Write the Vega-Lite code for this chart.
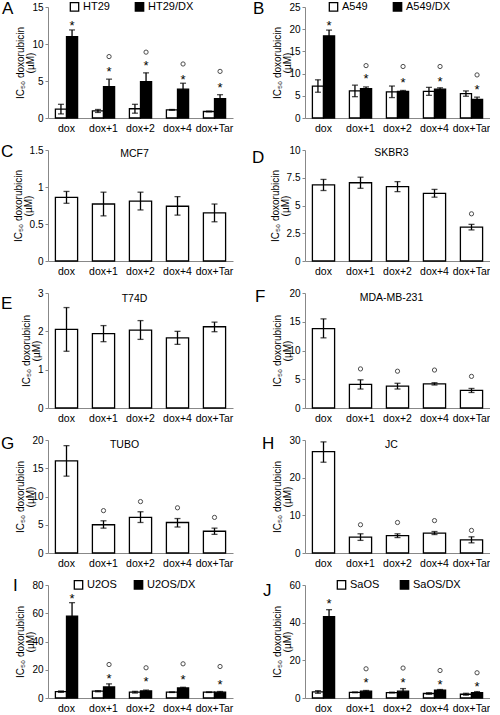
{
"$schema":"https://vega.github.io/schema/vega-lite/v6.json",
"padding":{"left":1,"top":0,"right":0,"bottom":0},
"background":"white",
"bounds":"flush",
"columns":2,
"spacing":{"row":32,"column":72},
"resolve":{"scale":{"fill":"independent","xOffset":"independent"},"legend":{"fill":"independent"}},
"config":{
 "font":"Liberation Sans",
 "view":{"stroke":null},
 "axis":{"grid":false,"domainColor":"#888","tickColor":"#888","labelColor":"#000","labelFontSize":10,"titleFontSize":10,"titleFontWeight":"normal","titleColor":"#000","labelOverlap":false},
 "axisX":{"ticks":false,"labelPadding":5,"labelAngle":0,"labelFontSize":10.5,"title":null},
 "axisY":{"tickSize":3,"labelPadding":2,"titlePadding":-4,"titleLineHeight":10,"labelExpr":"''+datum.value","labelOverlap":false},
 "bar":{"stroke":"#000","strokeWidth":1.3,"fill":"#fff"},
 "rule":{"strokeWidth":1.3,"color":"#000"},
 "tick":{"thickness":1.3,"size":6,"color":"#000"},
 "point":{"shape":"circle","size":18,"filled":false,"stroke":"#000","strokeWidth":1},
 "legend":{"orient":"none","direction":"horizontal","columns":2,"columnPadding":22,"symbolType":"square","symbolSize":70,"symbolStrokeColor":"#000","symbolStrokeWidth":1.2,"labelFontSize":11,"labelColor":"#000","title":null,"labelOffset":3}
},
"datasets":{
 "bars":[
  {"p":"A","x":"dox","g":"HT29","v":1.2,"lo":0.55,"hi":1.85},
  {"p":"A","x":"dox","g":"HT29/DX","v":11.0,"lo":10.1,"hi":11.9},
  {"p":"A","x":"dox+1","g":"HT29","v":0.95,"lo":0.75,"hi":1.15},
  {"p":"A","x":"dox+1","g":"HT29/DX","v":4.25,"lo":3.25,"hi":5.25},
  {"p":"A","x":"dox+2","g":"HT29","v":1.25,"lo":0.65,"hi":1.85},
  {"p":"A","x":"dox+2","g":"HT29/DX","v":4.9,"lo":3.7,"hi":6.1},
  {"p":"A","x":"dox+4","g":"HT29","v":1.1,"lo":1.05,"hi":1.15},
  {"p":"A","x":"dox+4","g":"HT29/DX","v":3.9,"lo":3.1,"hi":4.7},
  {"p":"A","x":"dox+Tar","g":"HT29","v":0.88,"lo":0.83,"hi":0.93},
  {"p":"A","x":"dox+Tar","g":"HT29/DX","v":2.6,"lo":2.05,"hi":3.15},
  {"p":"B","x":"dox","g":"A549","v":7.2,"lo":5.8,"hi":8.6},
  {"p":"B","x":"dox","g":"A549/DX","v":18.5,"lo":17.2,"hi":19.8},
  {"p":"B","x":"dox+1","g":"A549","v":6.1,"lo":4.8,"hi":7.4},
  {"p":"B","x":"dox+1","g":"A549/DX","v":6.6,"lo":6.2,"hi":7.0},
  {"p":"B","x":"dox+2","g":"A549","v":5.9,"lo":4.6,"hi":7.2},
  {"p":"B","x":"dox+2","g":"A549/DX","v":6.0,"lo":5.8,"hi":6.2},
  {"p":"B","x":"dox+4","g":"A549","v":6.0,"lo":5.1,"hi":6.9},
  {"p":"B","x":"dox+4","g":"A549/DX","v":6.5,"lo":6.2,"hi":6.8},
  {"p":"B","x":"dox+Tar","g":"A549","v":5.5,"lo":4.9,"hi":6.1},
  {"p":"B","x":"dox+Tar","g":"A549/DX","v":4.2,"lo":3.7,"hi":4.7},
  {"p":"C","x":"dox","v":0.86,"lo":0.78,"hi":0.94},
  {"p":"C","x":"dox+1","v":0.77,"lo":0.61,"hi":0.93},
  {"p":"C","x":"dox+2","v":0.81,"lo":0.69,"hi":0.93},
  {"p":"C","x":"dox+4","v":0.74,"lo":0.62,"hi":0.87},
  {"p":"C","x":"dox+Tar","v":0.65,"lo":0.53,"hi":0.77},
  {"p":"D","x":"dox","v":6.85,"lo":6.35,"hi":7.35},
  {"p":"D","x":"dox+1","v":7.05,"lo":6.55,"hi":7.55},
  {"p":"D","x":"dox+2","v":6.7,"lo":6.25,"hi":7.15},
  {"p":"D","x":"dox+4","v":6.1,"lo":5.75,"hi":6.45},
  {"p":"D","x":"dox+Tar","v":3.05,"lo":2.8,"hi":3.3},
  {"p":"E","x":"dox","v":2.05,"lo":1.48,"hi":2.62},
  {"p":"E","x":"dox+1","v":1.94,"lo":1.73,"hi":2.15},
  {"p":"E","x":"dox+2","v":2.03,"lo":1.79,"hi":2.28},
  {"p":"E","x":"dox+4","v":1.83,"lo":1.66,"hi":2.0},
  {"p":"E","x":"dox+Tar","v":2.12,"lo":1.99,"hi":2.24},
  {"p":"F","x":"dox","v":13.8,"lo":12.2,"hi":15.5},
  {"p":"F","x":"dox+1","v":4.1,"lo":3.3,"hi":4.9},
  {"p":"F","x":"dox+2","v":3.8,"lo":3.3,"hi":4.3},
  {"p":"F","x":"dox+4","v":4.2,"lo":4.0,"hi":4.4},
  {"p":"F","x":"dox+Tar","v":3.05,"lo":2.7,"hi":3.4},
  {"p":"G","x":"dox","v":16.3,"lo":13.6,"hi":19.0},
  {"p":"G","x":"dox+1","v":5.0,"lo":4.4,"hi":5.7},
  {"p":"G","x":"dox+2","v":6.3,"lo":5.4,"hi":7.3},
  {"p":"G","x":"dox+4","v":5.4,"lo":4.6,"hi":6.1},
  {"p":"G","x":"dox+Tar","v":3.85,"lo":3.3,"hi":4.4},
  {"p":"H","x":"dox","v":26.9,"lo":24.1,"hi":29.5},
  {"p":"H","x":"dox+1","v":4.2,"lo":3.35,"hi":5.1},
  {"p":"H","x":"dox+2","v":4.6,"lo":4.1,"hi":5.1},
  {"p":"H","x":"dox+4","v":5.3,"lo":4.9,"hi":5.7},
  {"p":"H","x":"dox+Tar","v":3.5,"lo":2.7,"hi":4.3},
  {"p":"I","x":"dox","g":"U2OS","v":4.5,"lo":4.0,"hi":5.0},
  {"p":"I","x":"dox","g":"U2OS/DX","v":58,"lo":48.5,"hi":67.5},
  {"p":"I","x":"dox+1","g":"U2OS","v":4.8,"lo":4.4,"hi":5.2},
  {"p":"I","x":"dox+1","g":"U2OS/DX","v":7.8,"lo":5.6,"hi":10.0},
  {"p":"I","x":"dox+2","g":"U2OS","v":4.1,"lo":3.5,"hi":4.7},
  {"p":"I","x":"dox+2","g":"U2OS/DX","v":5.0,"lo":4.4,"hi":5.6},
  {"p":"I","x":"dox+4","g":"U2OS","v":4.1,"lo":3.9,"hi":4.3},
  {"p":"I","x":"dox+4","g":"U2OS/DX","v":7.1,"lo":6.6,"hi":7.6},
  {"p":"I","x":"dox+Tar","g":"U2OS","v":4.1,"lo":3.9,"hi":4.3},
  {"p":"I","x":"dox+Tar","g":"U2OS/DX","v":4.1,"lo":3.6,"hi":4.6},
  {"p":"J","x":"dox","g":"SaOS","v":3.2,"lo":2.5,"hi":3.9},
  {"p":"J","x":"dox","g":"SaOS/DX","v":43.2,"lo":39.5,"hi":46.9},
  {"p":"J","x":"dox+1","g":"SaOS","v":3.0,"lo":2.8,"hi":3.2},
  {"p":"J","x":"dox+1","g":"SaOS/DX","v":3.6,"lo":3.2,"hi":4.0},
  {"p":"J","x":"dox+2","g":"SaOS","v":2.9,"lo":2.7,"hi":3.1},
  {"p":"J","x":"dox+2","g":"SaOS/DX","v":3.6,"lo":2.2,"hi":5.0},
  {"p":"J","x":"dox+4","g":"SaOS","v":2.4,"lo":2.0,"hi":2.8},
  {"p":"J","x":"dox+4","g":"SaOS/DX","v":4.2,"lo":3.9,"hi":4.5},
  {"p":"J","x":"dox+Tar","g":"SaOS","v":2.0,"lo":1.5,"hi":2.5},
  {"p":"J","x":"dox+Tar","g":"SaOS/DX","v":2.9,"lo":2.4,"hi":3.4}
 ],
 "ann":[
  {"p":"A","x":"dox","g":"HT29/DX","s":"*","y":12.85},
  {"p":"A","x":"dox+1","g":"HT29/DX","s":"*","y":6.6},
  {"p":"A","x":"dox+1","g":"HT29/DX","s":"o","y":8.3},
  {"p":"A","x":"dox+2","g":"HT29/DX","s":"*","y":7.5},
  {"p":"A","x":"dox+2","g":"HT29/DX","s":"o","y":8.9},
  {"p":"A","x":"dox+4","g":"HT29/DX","s":"*","y":5.6},
  {"p":"A","x":"dox+4","g":"HT29/DX","s":"o","y":7.3},
  {"p":"A","x":"dox+Tar","g":"HT29/DX","s":"*","y":4.4},
  {"p":"A","x":"dox+Tar","g":"HT29/DX","s":"o","y":6.3},
  {"p":"B","x":"dox","g":"A549/DX","s":"*","y":21.5},
  {"p":"B","x":"dox+1","g":"A549/DX","s":"*","y":9.4},
  {"p":"B","x":"dox+1","g":"A549/DX","s":"o","y":11.8},
  {"p":"B","x":"dox+2","g":"A549/DX","s":"*","y":8.5},
  {"p":"B","x":"dox+2","g":"A549/DX","s":"o","y":11.6},
  {"p":"B","x":"dox+4","g":"A549/DX","s":"*","y":8.7},
  {"p":"B","x":"dox+4","g":"A549/DX","s":"o","y":11.6},
  {"p":"B","x":"dox+Tar","g":"A549/DX","s":"*","y":7.0},
  {"p":"B","x":"dox+Tar","g":"A549/DX","s":"o","y":9.7},
  {"p":"D","x":"dox+Tar","s":"o","y":4.25},
  {"p":"F","x":"dox+1","s":"o","y":6.8},
  {"p":"F","x":"dox+2","s":"o","y":6.4},
  {"p":"F","x":"dox+4","s":"o","y":6.6},
  {"p":"F","x":"dox+Tar","s":"o","y":5.5},
  {"p":"G","x":"dox+1","s":"o","y":7.5},
  {"p":"G","x":"dox+2","s":"o","y":9.1},
  {"p":"G","x":"dox+4","s":"o","y":8.0},
  {"p":"G","x":"dox+Tar","s":"o","y":6.3},
  {"p":"H","x":"dox+1","s":"o","y":7.5},
  {"p":"H","x":"dox+2","s":"o","y":8.1},
  {"p":"H","x":"dox+4","s":"o","y":8.6},
  {"p":"H","x":"dox+Tar","s":"o","y":6.0},
  {"p":"I","x":"dox","g":"U2OS/DX","s":"*","y":72},
  {"p":"I","x":"dox+1","g":"U2OS/DX","s":"*","y":15.4},
  {"p":"I","x":"dox+1","g":"U2OS/DX","s":"o","y":23.7},
  {"p":"I","x":"dox+2","g":"U2OS/DX","s":"*","y":13.5},
  {"p":"I","x":"dox+2","g":"U2OS/DX","s":"o","y":21.4},
  {"p":"I","x":"dox+4","g":"U2OS/DX","s":"*","y":14.7},
  {"p":"I","x":"dox+4","g":"U2OS/DX","s":"o","y":24.2},
  {"p":"I","x":"dox+Tar","g":"U2OS/DX","s":"*","y":11.6},
  {"p":"I","x":"dox+Tar","g":"U2OS/DX","s":"o","y":22.3},
  {"p":"J","x":"dox","g":"SaOS/DX","s":"*","y":51.3},
  {"p":"J","x":"dox+1","g":"SaOS/DX","s":"*","y":9.3},
  {"p":"J","x":"dox+1","g":"SaOS/DX","s":"o","y":15.5},
  {"p":"J","x":"dox+2","g":"SaOS/DX","s":"*","y":9.3},
  {"p":"J","x":"dox+2","g":"SaOS/DX","s":"o","y":15.9},
  {"p":"J","x":"dox+4","g":"SaOS/DX","s":"*","y":8.3},
  {"p":"J","x":"dox+4","g":"SaOS/DX","s":"o","y":14.6},
  {"p":"J","x":"dox+Tar","g":"SaOS/DX","s":"*","y":7.6},
  {"p":"J","x":"dox+Tar","g":"SaOS/DX","s":"o","y":13.4}
 ]
},
"concat":[
 {"width":185,"height":111,
  "encoding":{"x":{"field":"x","type":"nominal","sort":["dox","dox+1","dox+2","dox+4","dox+Tar"],"scale":{"paddingInner":0.4,"paddingOuter":0.2}},
   "xOffset":{"field":"g","type":"nominal","sort":["HT29","HT29/DX"]}},
  "layer":[
   {"data":{"name":"bars"},"transform":[{"filter":"datum.p=='A'"}],"mark":"bar","encoding":{"y":{"field":"v","type":"quantitative","scale":{"domain":[0,15],"nice":false},"axis":{"values":[0,5,10,15],"labelOverlap":false,"title":["IC₅₀ doxorubicin","(µM)"]}},"fill":{"field":"g","type":"nominal","scale":{"domain":["HT29","HT29/DX"],"range":["#fff","#000"]},"legend":{"legendX":21,"legendY":-6,"columnPadding":22}}}},
   {"data":{"name":"bars"},"transform":[{"filter":"datum.p=='A'"}],"mark":"rule","encoding":{"y":{"field":"lo","type":"quantitative","axis":{"values":[0,5,10,15],"labelOverlap":false}},"y2":{"field":"hi"}}},
   {"data":{"name":"bars"},"transform":[{"filter":"datum.p=='A'"}],"mark":"tick","encoding":{"y":{"field":"lo","type":"quantitative","axis":{"values":[0,5,10,15],"labelOverlap":false}}}},
   {"data":{"name":"bars"},"transform":[{"filter":"datum.p=='A'"}],"mark":"tick","encoding":{"y":{"field":"hi","type":"quantitative","axis":{"values":[0,5,10,15],"labelOverlap":false}}}},
   {"data":{"name":"ann"},"transform":[{"filter":"datum.p=='A' && datum.s=='*'"}],"mark":{"type":"text","fontSize":13,"dy":3},"encoding":{"y":{"field":"y","type":"quantitative","axis":{"values":[0,5,10,15],"labelOverlap":false}},"text":{"field":"s"}}},
   {"data":{"name":"ann"},"transform":[{"filter":"datum.p=='A' && datum.s=='o'"}],"mark":"point","encoding":{"y":{"field":"y","type":"quantitative","axis":{"values":[0,5,10,15],"labelOverlap":false}}}},
   {"data":{"values":[{"t":"A"}]},"mark":{"type":"text","fontSize":17,"align":"left","baseline":"alphabetic","dx":-59,"dy":7},"encoding":{"x":{"datum":"dox"},"xOffset":{"datum":"HT29"},"y":{"datum":15,"axis":{"values":[0,5,10,15],"labelOverlap":false}},"text":{"field":"t"}}}
  ]},
 {"width":185,"height":111,
  "encoding":{"x":{"field":"x","type":"nominal","sort":["dox","dox+1","dox+2","dox+4","dox+Tar"],"scale":{"paddingInner":0.4,"paddingOuter":0.2}},
   "xOffset":{"field":"g","type":"nominal","sort":["A549","A549/DX"]}},
  "layer":[
   {"data":{"name":"bars"},"transform":[{"filter":"datum.p=='B'"}],"mark":"bar","encoding":{"y":{"field":"v","type":"quantitative","scale":{"domain":[0,25],"nice":false},"axis":{"values":[0,5,10,15,20,25],"labelOverlap":false,"title":["IC₅₀ doxorubicin","(µM)"]}},"fill":{"field":"g","type":"nominal","scale":{"domain":["A549","A549/DX"],"range":["#fff","#000"]},"legend":{"legendX":23,"legendY":-6,"columnPadding":22}}}},
   {"data":{"name":"bars"},"transform":[{"filter":"datum.p=='B'"}],"mark":"rule","encoding":{"y":{"field":"lo","type":"quantitative","axis":{"values":[0,5,10,15,20,25],"labelOverlap":false}},"y2":{"field":"hi"}}},
   {"data":{"name":"bars"},"transform":[{"filter":"datum.p=='B'"}],"mark":"tick","encoding":{"y":{"field":"lo","type":"quantitative","axis":{"values":[0,5,10,15,20,25],"labelOverlap":false}}}},
   {"data":{"name":"bars"},"transform":[{"filter":"datum.p=='B'"}],"mark":"tick","encoding":{"y":{"field":"hi","type":"quantitative","axis":{"values":[0,5,10,15,20,25],"labelOverlap":false}}}},
   {"data":{"name":"ann"},"transform":[{"filter":"datum.p=='B' && datum.s=='*'"}],"mark":{"type":"text","fontSize":13,"dy":3},"encoding":{"y":{"field":"y","type":"quantitative","axis":{"values":[0,5,10,15,20,25],"labelOverlap":false}},"text":{"field":"s"}}},
   {"data":{"name":"ann"},"transform":[{"filter":"datum.p=='B' && datum.s=='o'"}],"mark":"point","encoding":{"y":{"field":"y","type":"quantitative","axis":{"values":[0,5,10,15,20,25],"labelOverlap":false}}}},
   {"data":{"values":[{"t":"B"}]},"mark":{"type":"text","fontSize":17,"align":"left","baseline":"alphabetic","dx":-65,"dy":7},"encoding":{"x":{"datum":"dox"},"xOffset":{"datum":"A549"},"y":{"datum":25,"axis":{"values":[0,5,10,15,20,25],"labelOverlap":false}},"text":{"field":"t"}}}
  ]},
 {"width":185,"height":111,
  "encoding":{"x":{"field":"x","type":"nominal","sort":["dox","dox+1","dox+2","dox+4","dox+Tar"],"scale":{"paddingInner":0.4,"paddingOuter":0.2}}},
  "layer":[
   {"data":{"name":"bars"},"transform":[{"filter":"datum.p=='C'"}],"mark":"bar","encoding":{"y":{"field":"v","type":"quantitative","scale":{"domain":[0,1.5],"nice":false},"axis":{"values":[0,0.5,1,1.5],"labelOverlap":false,"title":["IC₅₀ doxorubicin","(µM)"]}}}},
   {"data":{"name":"bars"},"transform":[{"filter":"datum.p=='C'"}],"mark":"rule","encoding":{"y":{"field":"lo","type":"quantitative","axis":{"values":[0,0.5,1,1.5],"labelOverlap":false}},"y2":{"field":"hi"}}},
   {"data":{"name":"bars"},"transform":[{"filter":"datum.p=='C'"}],"mark":"tick","encoding":{"y":{"field":"lo","type":"quantitative","axis":{"values":[0,0.5,1,1.5],"labelOverlap":false}}}},
   {"data":{"name":"bars"},"transform":[{"filter":"datum.p=='C'"}],"mark":"tick","encoding":{"y":{"field":"hi","type":"quantitative","axis":{"values":[0,0.5,1,1.5],"labelOverlap":false}}}},
   {"data":{"values":[{"name":"MCF7"}]},"mark":{"type":"text","fontSize":10.5,"dy":0,"dx":-6},"encoding":{"x":{"datum":"dox+2"},"y":{"datum":1.44,"axis":{"values":[0,0.5,1,1.5],"labelOverlap":false}},"text":{"field":"name"}}},
   {"data":{"values":[{"t":"C"}]},"mark":{"type":"text","fontSize":17,"align":"left","baseline":"alphabetic","dx":-65.5,"dy":7},"encoding":{"x":{"datum":"dox"},"y":{"datum":1.5,"axis":{"values":[0,0.5,1,1.5],"labelOverlap":false}},"text":{"field":"t"}}}
  ]},
 {"width":185,"height":111,
  "encoding":{"x":{"field":"x","type":"nominal","sort":["dox","dox+1","dox+2","dox+4","dox+Tar"],"scale":{"paddingInner":0.4,"paddingOuter":0.2}}},
  "layer":[
   {"data":{"name":"bars"},"transform":[{"filter":"datum.p=='D'"}],"mark":"bar","encoding":{"y":{"field":"v","type":"quantitative","scale":{"domain":[0,10],"nice":false},"axis":{"values":[0,2.5,5,7.5,10],"labelOverlap":false,"title":["IC₅₀ doxorubicin","(µM)"]}}}},
   {"data":{"name":"bars"},"transform":[{"filter":"datum.p=='D'"}],"mark":"rule","encoding":{"y":{"field":"lo","type":"quantitative","axis":{"values":[0,2.5,5,7.5,10],"labelOverlap":false}},"y2":{"field":"hi"}}},
   {"data":{"name":"bars"},"transform":[{"filter":"datum.p=='D'"}],"mark":"tick","encoding":{"y":{"field":"lo","type":"quantitative","axis":{"values":[0,2.5,5,7.5,10],"labelOverlap":false}}}},
   {"data":{"name":"bars"},"transform":[{"filter":"datum.p=='D'"}],"mark":"tick","encoding":{"y":{"field":"hi","type":"quantitative","axis":{"values":[0,2.5,5,7.5,10],"labelOverlap":false}}}},
   {"data":{"name":"ann"},"transform":[{"filter":"datum.p=='D' && datum.s=='o'"}],"mark":"point","encoding":{"y":{"field":"y","type":"quantitative","axis":{"values":[0,2.5,5,7.5,10],"labelOverlap":false}}}},
   {"data":{"values":[{"name":"SKBR3"}]},"mark":{"type":"text","fontSize":10.5,"dy":0,"dx":-6},"encoding":{"x":{"datum":"dox+2"},"y":{"datum":9.7,"axis":{"values":[0,2.5,5,7.5,10],"labelOverlap":false}},"text":{"field":"name"}}},
   {"data":{"values":[{"t":"D"}]},"mark":{"type":"text","fontSize":17,"align":"left","baseline":"alphabetic","dx":-71.5,"dy":13},"encoding":{"x":{"datum":"dox"},"y":{"datum":10,"axis":{"values":[0,2.5,5,7.5,10],"labelOverlap":false}},"text":{"field":"t"}}}
  ]},
 {"width":185,"height":115,
  "encoding":{"x":{"field":"x","type":"nominal","sort":["dox","dox+1","dox+2","dox+4","dox+Tar"],"scale":{"paddingInner":0.4,"paddingOuter":0.2}}},
  "layer":[
   {"data":{"name":"bars"},"transform":[{"filter":"datum.p=='E'"}],"mark":"bar","encoding":{"y":{"field":"v","type":"quantitative","scale":{"domain":[0,3],"nice":false},"axis":{"values":[0,1,2,3],"labelOverlap":false,"title":["IC₅₀ doxorubicin","(µM)"]}}}},
   {"data":{"name":"bars"},"transform":[{"filter":"datum.p=='E'"}],"mark":"rule","encoding":{"y":{"field":"lo","type":"quantitative","axis":{"values":[0,1,2,3],"labelOverlap":false}},"y2":{"field":"hi"}}},
   {"data":{"name":"bars"},"transform":[{"filter":"datum.p=='E'"}],"mark":"tick","encoding":{"y":{"field":"lo","type":"quantitative","axis":{"values":[0,1,2,3],"labelOverlap":false}}}},
   {"data":{"name":"bars"},"transform":[{"filter":"datum.p=='E'"}],"mark":"tick","encoding":{"y":{"field":"hi","type":"quantitative","axis":{"values":[0,1,2,3],"labelOverlap":false}}}},
   {"data":{"values":[{"name":"T74D"}]},"mark":{"type":"text","fontSize":10.5,"dy":0,"dx":-6},"encoding":{"x":{"datum":"dox+2"},"y":{"datum":2.85,"axis":{"values":[0,1,2,3],"labelOverlap":false}},"text":{"field":"name"}}},
   {"data":{"values":[{"t":"E"}]},"mark":{"type":"text","fontSize":17,"align":"left","baseline":"alphabetic","dx":-65.5,"dy":16},"encoding":{"x":{"datum":"dox"},"y":{"datum":3,"axis":{"values":[0,1,2,3],"labelOverlap":false}},"text":{"field":"t"}}}
  ]},
 {"width":185,"height":115,
  "encoding":{"x":{"field":"x","type":"nominal","sort":["dox","dox+1","dox+2","dox+4","dox+Tar"],"scale":{"paddingInner":0.4,"paddingOuter":0.2}}},
  "layer":[
   {"data":{"name":"bars"},"transform":[{"filter":"datum.p=='F'"}],"mark":"bar","encoding":{"y":{"field":"v","type":"quantitative","scale":{"domain":[0,20],"nice":false},"axis":{"values":[0,5,10,15,20],"labelOverlap":false,"title":["IC₅₀ doxorubicin","(µM)"]}}}},
   {"data":{"name":"bars"},"transform":[{"filter":"datum.p=='F'"}],"mark":"rule","encoding":{"y":{"field":"lo","type":"quantitative","axis":{"values":[0,5,10,15,20],"labelOverlap":false}},"y2":{"field":"hi"}}},
   {"data":{"name":"bars"},"transform":[{"filter":"datum.p=='F'"}],"mark":"tick","encoding":{"y":{"field":"lo","type":"quantitative","axis":{"values":[0,5,10,15,20],"labelOverlap":false}}}},
   {"data":{"name":"bars"},"transform":[{"filter":"datum.p=='F'"}],"mark":"tick","encoding":{"y":{"field":"hi","type":"quantitative","axis":{"values":[0,5,10,15,20],"labelOverlap":false}}}},
   {"data":{"name":"ann"},"transform":[{"filter":"datum.p=='F' && datum.s=='o'"}],"mark":"point","encoding":{"y":{"field":"y","type":"quantitative","axis":{"values":[0,5,10,15,20],"labelOverlap":false}}}},
   {"data":{"values":[{"name":"MDA-MB-231"}]},"mark":{"type":"text","fontSize":10.5,"dy":0,"dx":-6},"encoding":{"x":{"datum":"dox+2"},"y":{"datum":19.1,"axis":{"values":[0,5,10,15,20],"labelOverlap":false}},"text":{"field":"name"}}},
   {"data":{"values":[{"t":"F"}]},"mark":{"type":"text","fontSize":17,"align":"left","baseline":"alphabetic","dx":-68.5,"dy":9},"encoding":{"x":{"datum":"dox"},"y":{"datum":20,"axis":{"values":[0,5,10,15,20],"labelOverlap":false}},"text":{"field":"t"}}}
  ]},
 {"width":185,"height":113,
  "encoding":{"x":{"field":"x","type":"nominal","sort":["dox","dox+1","dox+2","dox+4","dox+Tar"],"scale":{"paddingInner":0.4,"paddingOuter":0.2}}},
  "layer":[
   {"data":{"name":"bars"},"transform":[{"filter":"datum.p=='G'"}],"mark":"bar","encoding":{"y":{"field":"v","type":"quantitative","scale":{"domain":[0,20],"nice":false},"axis":{"values":[0,5,10,15,20],"labelOverlap":false,"title":["IC₅₀ doxorubicin","(µM)"]}}}},
   {"data":{"name":"bars"},"transform":[{"filter":"datum.p=='G'"}],"mark":"rule","encoding":{"y":{"field":"lo","type":"quantitative","axis":{"values":[0,5,10,15,20],"labelOverlap":false}},"y2":{"field":"hi"}}},
   {"data":{"name":"bars"},"transform":[{"filter":"datum.p=='G'"}],"mark":"tick","encoding":{"y":{"field":"lo","type":"quantitative","axis":{"values":[0,5,10,15,20],"labelOverlap":false}}}},
   {"data":{"name":"bars"},"transform":[{"filter":"datum.p=='G'"}],"mark":"tick","encoding":{"y":{"field":"hi","type":"quantitative","axis":{"values":[0,5,10,15,20],"labelOverlap":false}}}},
   {"data":{"name":"ann"},"transform":[{"filter":"datum.p=='G' && datum.s=='o'"}],"mark":"point","encoding":{"y":{"field":"y","type":"quantitative","axis":{"values":[0,5,10,15,20],"labelOverlap":false}}}},
   {"data":{"values":[{"name":"TUBO"}]},"mark":{"type":"text","fontSize":10.5,"dy":0,"dx":-16},"encoding":{"x":{"datum":"dox+2"},"y":{"datum":19.1,"axis":{"values":[0,5,10,15,20],"labelOverlap":false}},"text":{"field":"name"}}},
   {"data":{"values":[{"t":"G"}]},"mark":{"type":"text","fontSize":17,"align":"left","baseline":"alphabetic","dx":-65.5,"dy":9},"encoding":{"x":{"datum":"dox"},"y":{"datum":20,"axis":{"values":[0,5,10,15,20],"labelOverlap":false}},"text":{"field":"t"}}}
  ]},
 {"width":185,"height":113,
  "encoding":{"x":{"field":"x","type":"nominal","sort":["dox","dox+1","dox+2","dox+4","dox+Tar"],"scale":{"paddingInner":0.4,"paddingOuter":0.2}}},
  "layer":[
   {"data":{"name":"bars"},"transform":[{"filter":"datum.p=='H'"}],"mark":"bar","encoding":{"y":{"field":"v","type":"quantitative","scale":{"domain":[0,30],"nice":false},"axis":{"values":[0,10,20,30],"labelOverlap":false,"title":["IC₅₀ doxorubicin","(µM)"]}}}},
   {"data":{"name":"bars"},"transform":[{"filter":"datum.p=='H'"}],"mark":"rule","encoding":{"y":{"field":"lo","type":"quantitative","axis":{"values":[0,10,20,30],"labelOverlap":false}},"y2":{"field":"hi"}}},
   {"data":{"name":"bars"},"transform":[{"filter":"datum.p=='H'"}],"mark":"tick","encoding":{"y":{"field":"lo","type":"quantitative","axis":{"values":[0,10,20,30],"labelOverlap":false}}}},
   {"data":{"name":"bars"},"transform":[{"filter":"datum.p=='H'"}],"mark":"tick","encoding":{"y":{"field":"hi","type":"quantitative","axis":{"values":[0,10,20,30],"labelOverlap":false}}}},
   {"data":{"name":"ann"},"transform":[{"filter":"datum.p=='H' && datum.s=='o'"}],"mark":"point","encoding":{"y":{"field":"y","type":"quantitative","axis":{"values":[0,10,20,30],"labelOverlap":false}}}},
   {"data":{"values":[{"name":"JC"}]},"mark":{"type":"text","fontSize":10.5,"dy":0,"dx":-6},"encoding":{"x":{"datum":"dox+2"},"y":{"datum":28.7,"axis":{"values":[0,10,20,30],"labelOverlap":false}},"text":{"field":"name"}}},
   {"data":{"values":[{"t":"H"}]},"mark":{"type":"text","fontSize":17,"align":"left","baseline":"alphabetic","dx":-61.5,"dy":9},"encoding":{"x":{"datum":"dox"},"y":{"datum":30,"axis":{"values":[0,10,20,30],"labelOverlap":false}},"text":{"field":"t"}}}
  ]},
 {"width":185,"height":113,
  "encoding":{"x":{"field":"x","type":"nominal","sort":["dox","dox+1","dox+2","dox+4","dox+Tar"],"scale":{"paddingInner":0.4,"paddingOuter":0.2}},
   "xOffset":{"field":"g","type":"nominal","sort":["U2OS","U2OS/DX"]}},
  "layer":[
   {"data":{"name":"bars"},"transform":[{"filter":"datum.p=='I'"}],"mark":"bar","encoding":{"y":{"field":"v","type":"quantitative","scale":{"domain":[0,80],"nice":false},"axis":{"values":[0,20,40,60,80],"labelOverlap":false,"title":["IC₅₀ doxorubicin","(µM)"]}},"fill":{"field":"g","type":"nominal","scale":{"domain":["U2OS","U2OS/DX"],"range":["#fff","#000"]},"legend":{"legendX":25,"legendY":-6,"columnPadding":14}}}},
   {"data":{"name":"bars"},"transform":[{"filter":"datum.p=='I'"}],"mark":"rule","encoding":{"y":{"field":"lo","type":"quantitative","axis":{"values":[0,20,40,60,80],"labelOverlap":false}},"y2":{"field":"hi"}}},
   {"data":{"name":"bars"},"transform":[{"filter":"datum.p=='I'"}],"mark":"tick","encoding":{"y":{"field":"lo","type":"quantitative","axis":{"values":[0,20,40,60,80],"labelOverlap":false}}}},
   {"data":{"name":"bars"},"transform":[{"filter":"datum.p=='I'"}],"mark":"tick","encoding":{"y":{"field":"hi","type":"quantitative","axis":{"values":[0,20,40,60,80],"labelOverlap":false}}}},
   {"data":{"name":"ann"},"transform":[{"filter":"datum.p=='I' && datum.s=='*'"}],"mark":{"type":"text","fontSize":13,"dy":3},"encoding":{"y":{"field":"y","type":"quantitative","axis":{"values":[0,20,40,60,80],"labelOverlap":false}},"text":{"field":"s"}}},
   {"data":{"name":"ann"},"transform":[{"filter":"datum.p=='I' && datum.s=='o'"}],"mark":"point","encoding":{"y":{"field":"y","type":"quantitative","axis":{"values":[0,20,40,60,80],"labelOverlap":false}}}},
   {"data":{"values":[{"t":"I"}]},"mark":{"type":"text","fontSize":17,"align":"left","baseline":"alphabetic","dx":-48,"dy":6},"encoding":{"x":{"datum":"dox"},"xOffset":{"datum":"U2OS"},"y":{"datum":80,"axis":{"values":[0,20,40,60,80],"labelOverlap":false}},"text":{"field":"t"}}}
  ]},
 {"width":185,"height":113,
  "encoding":{"x":{"field":"x","type":"nominal","sort":["dox","dox+1","dox+2","dox+4","dox+Tar"],"scale":{"paddingInner":0.4,"paddingOuter":0.2}},
   "xOffset":{"field":"g","type":"nominal","sort":["SaOS","SaOS/DX"]}},
  "layer":[
   {"data":{"name":"bars"},"transform":[{"filter":"datum.p=='J'"}],"mark":"bar","encoding":{"y":{"field":"v","type":"quantitative","scale":{"domain":[0,60],"nice":false},"axis":{"values":[0,20,40,60],"labelOverlap":false,"title":["IC₅₀ doxorubicin","(µM)"]}},"fill":{"field":"g","type":"nominal","scale":{"domain":["SaOS","SaOS/DX"],"range":["#fff","#000"]},"legend":{"legendX":31,"legendY":-6,"columnPadding":17}}}},
   {"data":{"name":"bars"},"transform":[{"filter":"datum.p=='J'"}],"mark":"rule","encoding":{"y":{"field":"lo","type":"quantitative","axis":{"values":[0,20,40,60],"labelOverlap":false}},"y2":{"field":"hi"}}},
   {"data":{"name":"bars"},"transform":[{"filter":"datum.p=='J'"}],"mark":"tick","encoding":{"y":{"field":"lo","type":"quantitative","axis":{"values":[0,20,40,60],"labelOverlap":false}}}},
   {"data":{"name":"bars"},"transform":[{"filter":"datum.p=='J'"}],"mark":"tick","encoding":{"y":{"field":"hi","type":"quantitative","axis":{"values":[0,20,40,60],"labelOverlap":false}}}},
   {"data":{"name":"ann"},"transform":[{"filter":"datum.p=='J' && datum.s=='*'"}],"mark":{"type":"text","fontSize":13,"dy":3},"encoding":{"y":{"field":"y","type":"quantitative","axis":{"values":[0,20,40,60],"labelOverlap":false}},"text":{"field":"s"}}},
   {"data":{"name":"ann"},"transform":[{"filter":"datum.p=='J' && datum.s=='o'"}],"mark":"point","encoding":{"y":{"field":"y","type":"quantitative","axis":{"values":[0,20,40,60],"labelOverlap":false}}}},
   {"data":{"values":[{"t":"J"}]},"mark":{"type":"text","fontSize":17,"align":"left","baseline":"alphabetic","dx":-55,"dy":11},"encoding":{"x":{"datum":"dox"},"xOffset":{"datum":"SaOS"},"y":{"datum":60,"axis":{"values":[0,20,40,60],"labelOverlap":false}},"text":{"field":"t"}}}
  ]}
]
}
